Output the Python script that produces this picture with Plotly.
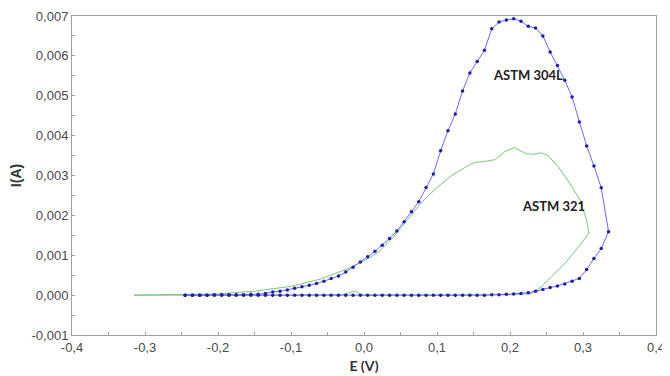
import plotly.graph_objects as go

# ASTM 304L (blue, with markers): forward scan then reverse scan
e_304_fwd = [-0.245, -0.235, -0.225, -0.215, -0.205, -0.195, -0.185, -0.175, -0.165, -0.155,
             -0.145, -0.135, -0.125, -0.115, -0.105, -0.095, -0.085, -0.075, -0.065, -0.055,
             -0.045, -0.035, -0.025, -0.015, -0.005, 0.005, 0.015, 0.025, 0.035, 0.045,
             0.055, 0.065, 0.075, 0.085, 0.095, 0.105, 0.115, 0.125, 0.135, 0.145,
             0.155, 0.165, 0.175, 0.185, 0.195, 0.205, 0.215, 0.225, 0.235, 0.245,
             0.255, 0.265, 0.275, 0.285, 0.295, 0.305, 0.315, 0.325, 0.335]
i_304_fwd = [0.0, 0.0, 0.0, 0.0, 0.00001, 0.00001, 0.00001, 0.00001, 0.00001, 0.00002,
             0.00002, 0.00004, 0.00008, 0.0001, 0.00013, 0.00017, 0.00021, 0.00025, 0.00029, 0.00035,
             0.00042, 0.00048, 0.00058, 0.0007, 0.00083, 0.00096, 0.0011, 0.00125, 0.00142, 0.00161,
             0.00184, 0.00209, 0.00234, 0.0027, 0.00304, 0.00362, 0.00412, 0.00454, 0.00512, 0.00557,
             0.00586, 0.00614, 0.00668, 0.00685, 0.0069, 0.00693, 0.00687, 0.00674, 0.0067, 0.0065,
             0.0061, 0.00576, 0.00539, 0.00497, 0.00434, 0.00374, 0.00324, 0.00269, 0.00159]
e_304_rev = [0.325, 0.315, 0.305, 0.295, 0.285, 0.275, 0.265, 0.255, 0.245, 0.235,
             0.225, 0.215, 0.205, 0.195, 0.185, 0.175, 0.165, 0.155, 0.145, 0.135,
             0.125, 0.115, 0.105, 0.095, 0.085, 0.075, 0.065, 0.055, 0.045, 0.035,
             0.025, 0.015, 0.005, -0.005, -0.015, -0.025, -0.035, -0.045, -0.055, -0.065,
             -0.075, -0.085, -0.095, -0.105, -0.115, -0.125, -0.135, -0.145, -0.155, -0.165,
             -0.175, -0.185, -0.195, -0.205, -0.215, -0.225, -0.235, -0.245]
i_304_rev = [0.00117, 0.00092, 0.00064, 0.00042, 0.00035, 0.00028, 0.00023, 0.00019, 0.00014, 0.0001,
             0.00006, 0.00004, 0.00003, 0.00002, 0.00001, 0.00001, 0.0, 0.0, 0.0, 0.0,
             0.0, 0.0, 0.0, 0.0, 0.0, 0.0, 0.0, 0.0, 0.0, 0.0,
             0.0, 0.0, 0.0, 0.0, 0.0, 0.0, 0.0, 0.0, 0.0, 0.0,
             0.0, 0.0, 0.0, 0.0, 0.0, 0.0, 0.0, 0.0, 0.0, 0.0,
             0.0, 0.0, 0.0, 0.0, 0.0, 0.0, 0.0, 0.0]

# ASTM 321 (green line)
e_321 = [-0.315, -0.25, -0.2, -0.15, -0.1, -0.06, -0.02, 0.0, 0.02, 0.04,
         0.06, 0.08, 0.1, 0.12, 0.14, 0.152, 0.165, 0.18, 0.193, 0.206,
         0.214, 0.222, 0.232, 0.243, 0.252, 0.266, 0.282, 0.296, 0.305, 0.308,
         0.294, 0.275, 0.257, 0.243, 0.23, 0.2, 0.1, 0.0, -0.005, -0.012,
         -0.02, -0.03, -0.1, -0.315]
i_321 = [0.0, 0.00001, 0.00003, 0.0001, 0.00022, 0.0004, 0.00068, 0.00086, 0.00108, 0.00145,
         0.0019, 0.00235, 0.0027, 0.003, 0.00322, 0.00333, 0.00335, 0.0034, 0.0036, 0.0037,
         0.00362, 0.00355, 0.00353, 0.00357, 0.0035, 0.00322, 0.0028, 0.00238, 0.00188, 0.00155,
         0.00121, 0.00079, 0.00046, 0.00021, 0.00004, 0.00001, 0.0, 0.0, 0.00003, 0.0001,
         0.00006, 0.00001, 0.0, 0.0]

x_tickvals = [-0.4, -0.3, -0.2, -0.1, 0.0, 0.1, 0.2, 0.3, 0.4]
x_ticktext = ["-0,4", "-0,3", "-0,2", "-0,1", "0,0", "0,1", "0,2", "0,3", "0,4"]
y_tickvals = [-0.001, 0.0, 0.001, 0.002, 0.003, 0.004, 0.005, 0.006, 0.007]
y_ticktext = ["-0,001", "0,000", "0,001", "0,002", "0,003", "0,004", "0,005", "0,006", "0,007"]

labels = ["ASTM 304L", "ASTM 321"]
label_x = [0.225, 0.259]
label_y = [0.00552, 0.00223]

fig = go.Figure()
fig.add_trace(go.Scatter(
    x=e_321, y=i_321, mode="lines",
    line=dict(color="#7cc47c", width=1), name="ASTM 321", showlegend=False))
fig.add_trace(go.Scatter(
    x=e_304_fwd + e_304_rev, y=i_304_fwd + i_304_rev, mode="lines+markers",
    line=dict(color="#6a6aff", width=1),
    marker=dict(color="#1e1eaa", size=3.5),
    name="ASTM 304L", showlegend=False))

for t, xx, yy in zip(labels, label_x, label_y):
    fig.add_annotation(x=xx, y=yy, text=t, showarrow=False,
                       font=dict(family="Lato", size=13, color="#222222", weight="bold"))

axis_common = dict(
    showgrid=False, zeroline=False, showline=True, linecolor="#a0a0a0", linewidth=1,
    mirror=True, ticks="inside", ticklen=3, tickcolor="#a0a0a0", automargin=False,
    tickfont=dict(family="Arial", size=13, color="#4a4a4a"),
)

fig.update_xaxes(range=[-0.4, 0.4], tickvals=x_tickvals, ticktext=x_ticktext,
                 minor=dict(ticks="inside", ticklen=3, tickcolor="#a0a0a0", dtick=0.05, tick0=0),
                 title=dict(text="E (V)", font=dict(family="Lato", size=14, color="#333333", weight="bold"),
                            standoff=7),
                 **axis_common)
fig.update_yaxes(range=[-0.001, 0.007], tickvals=y_tickvals, ticktext=y_ticktext,
                 minor=dict(ticks="inside", ticklen=3, tickcolor="#a0a0a0", dtick=0.0005, tick0=0),
                 title=dict(text="I(A)", font=dict(family="Arial", size=14, color="#333333", weight="bold"),
                            standoff=8),
                 **axis_common)

# the page body adds an 8px margin, so the figure is 8px smaller and its margins shifted
fig.update_layout(
    width=662, height=368,
    margin=dict(l=64, r=14, t=8, b=41),
    paper_bgcolor="white", plot_bgcolor="white",
)

fig.write_html("out.html")
